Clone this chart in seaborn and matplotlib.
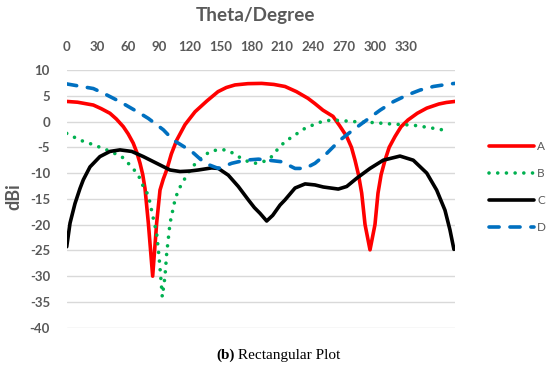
import numpy as np
import pandas as pd
import matplotlib
matplotlib.use("Agg")
import matplotlib.pyplot as plt
import seaborn as sns

# ---------------- data ----------------
theta_A = [0, 10, 24.7, 32, 40.1, 46, 52.5, 57, 61.7, 65, 68.0, 70.5, 72.6, 75.7, 79.7, 83.4,
           86.5, 89.5, 92.7, 97, 102.0, 109.7, 119.0, 130.0, 140.3, 148, 156.0, 168, 180.8,
           192, 202.4, 213, 223.7, 230, 237.6, 246.9, 253, 259.6, 264, 267.3, 270.5, 273.5,
           276.6, 281.2, 285.8, 288.6, 291.5, 295.1, 299, 304.4, 310, 316.4, 325, 333.8,
           345, 352, 360.0]
val_A = [3.9, 3.75, 3.2, 2.5, 1.6, 0.5, -1.0, -2.4, -4.2, -6.0, -8.1, -10.3, -13.0, -19.7, -30.0, -19.7,
         -13.3, -11.2, -9.4, -6.3, -3.6, -0.6, 1.9, 4.0, 5.8, 6.6, 7.1, 7.35, 7.4,
         7.2, 6.8, 5.8, 4.5, 3.5, 2.2, 1.0, -0.8, -2.9, -5.0, -7.5, -10.3, -13.9,
         -20.0, -24.9, -20.0, -13.9, -10.3, -7.5, -5.0, -2.9, -1.0, 0.3, 1.6, 2.6,
         3.4, 3.7, 3.9]

theta_B = [0, 12.3, 24.7, 37.1, 51.0, 60.3, 66.4, 71.0, 75.7, 80.3, 83.4, 85.6, 87.4, 88.6,
           91.1, 92.7, 95.8, 100.4, 103.5, 109.7, 114.3, 122.0, 132.9, 142.1, 149.8, 159.1,
           168.4, 174.6, 182.3, 190.1, 196.2, 202.4, 211.7, 221.0, 230.2, 237.9, 246.9,
           265.4, 284.0, 302.5, 321.0, 336.8, 353.8]
val_B = [-2.3, -3.6, -4.5, -5.5, -6.8, -8.8, -10.4, -12.6, -14.3, -18.8, -21.7, -26.2, -30.7, -34.0,
         -30.1, -25.6, -19.7, -15.2, -13.3, -11.0, -9.4, -7.5, -5.8, -5.4, -5.6, -6.8,
         -7.8, -8.1, -7.8, -6.8, -5.2, -3.9, -2.6, -1.3, -0.5, 0.1, 0.3,
         0.0, -0.2, -0.5, -0.7, -1.2, -1.8]

theta_C = [0, 3.1, 7.7, 12.3, 15.4, 21.6, 30.8, 40.1, 49.4, 60.3, 71.0, 83.4, 95.8, 105.1,
           114.3, 122.0, 134.4, 140.6, 149.8, 159.1, 168.4, 174, 179.2, 185.4, 191.0, 197.8,
           202.4, 211.7, 221.0, 230.2, 237.9, 251.8, 259.6, 268.9, 281.2, 293.5, 309.0,
           321.3, 333.8, 343.0, 350.7, 355.3, 359.0]
val_C = [-24.3, -19.7, -15.9, -13.0, -11.3, -8.8, -6.8, -5.8, -5.5, -5.8, -6.8, -8.1, -9.4, -9.7,
         -9.6, -9.4, -9.0, -9.1, -10.4, -12.6, -15.2, -16.7, -17.8, -19.3, -18.2, -16.2,
         -15.2, -12.9, -12.1, -12.3, -12.7, -13.1, -12.6, -11.0, -9.1, -7.5, -6.7,
         -7.5, -10.0, -13.3, -17.2, -21.0, -24.8]

theta_D = [0, 24.7, 34.0, 49.4, 68.0, 75.7, 89.6, 98.8, 109.7, 115.9, 128.2, 140.6, 153.0,
           165.3, 177.7, 186.9, 199.3, 211.7, 221.0, 230.2, 241.0, 253.4, 265.7, 278.1,
           290.5, 302.8, 315.2, 327.5, 339.9, 355.4, 360.0]
val_D = [7.3, 6.4, 5.5, 3.85, 1.6, 0.6, -1.6, -3.6, -5.0, -5.8, -8.1, -9.1, -8.1,
         -7.5, -7.3, -7.5, -7.8, -9.1, -9.1, -8.1, -6.2, -3.6, -1.6, 0.3,
         2.2, 3.85, 5.1, 6.1, 6.8, 7.3, 7.4]

series_names = ["A", "B", "C", "D"]
xtick_labels = [0, 30, 60, 90, 120, 150, 180, 210, 240, 270, 300, 330]
ytick_values = [10, 5, 0, -5, -10, -15, -20, -25, -30, -35, -40]

# ---------------- styling ----------------
sns.set_theme(style="white")
plt.rcParams["font.family"] = ["Lato", "DejaVu Sans"]

colors = {"A": "#FF0000", "B": "#00B050", "C": "#000000", "D": "#0070C0"}
gray = "#595959"

fig = plt.figure(figsize=(5.5, 3.67), dpi=100)
ax = fig.add_axes([66.7 / 550, 1 - 327.7 / 367, (455 - 66.7) / 550, (327.7 - 70) / 367])

data = {"A": (theta_A, val_A), "B": (theta_B, val_B), "C": (theta_C, val_C), "D": (theta_D, val_D)}
lw = 2.6
for name in series_names:
    th, v = data[name]
    df = pd.DataFrame({"theta": th, "dBi": v})
    sns.lineplot(data=df, x="theta", y="dBi", ax=ax, color=colors[name], linewidth=lw,
                 sort=False, estimator=None, label=name)

lines = ax.get_lines()
for ln in lines:
    ln.set_solid_capstyle("round")
    ln.set_solid_joinstyle("round")
lines[1].set_linestyle((0, (0.01, 2.4)))
lines[1].set_dash_capstyle("round")
lines[3].set_linestyle((0, (2.8, 3.0)))
lines[3].set_dash_capstyle("round")

ax.set_xlim(0, 360)
ax.set_ylim(-40, 10)
ax.set_yticks(ytick_values)
ax.set_yticklabels([str(t) for t in ytick_values])
# category-style axis of the original: labels every 30 categories, 378 categories over the span
xtick_pos = np.array(xtick_labels) * 360.0 / 378.0
ax.set_xticks(xtick_pos)
ax.set_xticklabels([str(t) for t in xtick_labels])
ax.xaxis.tick_top()
ax.tick_params(axis="x", length=0, pad=12, labelsize=9.5, labelcolor=gray)
ax.tick_params(axis="y", length=0, pad=12, labelsize=9.5, labelcolor=gray)
for lab in ax.get_xticklabels() + ax.get_yticklabels():
    lab.set_fontweight("bold")
ax.grid(axis="y", color="#D9D9D9", linewidth=1.0)
ax.grid(axis="x", visible=False)
for s in ax.spines.values():
    s.set_visible(False)
ax.set_xlabel("")
ax.set_ylabel("")

fig.text(256 / 550, 1 - 16 / 367, "Theta/Degree", ha="center", va="center",
         fontsize=13.6, fontweight="bold", color=gray)
fig.text(14 / 550, 1 - 197 / 367, "dBi", ha="center", va="center", rotation=90,
         fontsize=13, fontweight="bold", color=gray)

leg = ax.legend(loc="upper left", bbox_to_anchor=(484 / 550, 1 - 136.5 / 367),
                bbox_transform=fig.transFigure, frameon=False, fontsize=8.5,
                handlelength=3.8, handletextpad=0.3, labelspacing=1.36, borderaxespad=0)
for t in leg.get_texts():
    t.set_color(gray)

# caption
fig.canvas.draw()
r = fig.canvas.get_renderer()
t1 = fig.text(216 / 550, 1 - 355 / 367, "(b)", ha="left", va="center",
              fontsize=11, fontweight="bold", color="black",
              family=["Liberation Serif", "DejaVu Serif"])
bb = t1.get_window_extent(renderer=r)
fig.text(bb.x1 / fig.bbox.width, 1 - 355 / 367, " Rectangular Plot", ha="left", va="center",
         fontsize=11, color="black", family=["Liberation Serif", "DejaVu Serif"])

fig.savefig("out.png", dpi=100)
